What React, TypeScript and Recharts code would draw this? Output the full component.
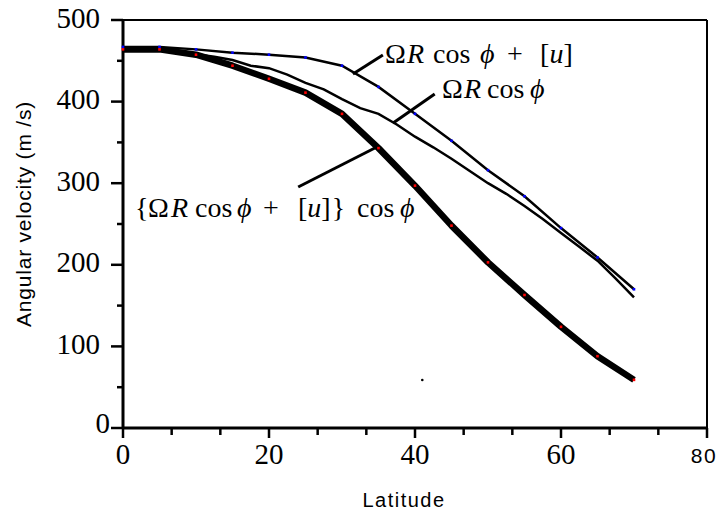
import React from 'react';
import { ComposedChart, Line, XAxis, YAxis, ReferenceLine, ReferenceDot } from 'recharts';

// Latitudes (degrees)
const latCoarse = [0, 5, 10, 15, 20, 25, 30, 35, 40, 45, 50, 55, 60, 65, 70];
// ΩR cos φ + [u]
const seriesA = [467, 467, 464, 460, 457.5, 454, 444, 418, 385, 352, 316, 284, 245, 209, 170];
// {ΩR cos φ + [u]} cos φ
const seriesC = [464, 464, 457.5, 444, 428, 411, 385, 343, 297, 248, 203, 163, 124, 88, 59];
// ΩR cos φ (finer sampling, slightly irregular trace)
const latFine = [0, 2.5, 5, 7.5, 10, 12.5, 15, 17.5, 20, 22.5, 25, 27.5, 30, 32.5, 35, 37.5, 40, 42.5, 45, 47.5, 50, 52.5, 55, 57.5, 60, 62.5, 65, 67.5, 70];
const seriesB = [466, 466, 465, 462, 458, 455, 451, 444, 441, 433, 423, 415, 403, 392, 385, 372, 357, 344, 330, 315, 300, 287, 272, 256, 239, 222, 205, 183, 160];

const xTicks = [0, 20 / 3, 40 / 3, 20, 80 / 3, 100 / 3, 40, 140 / 3, 160 / 3, 60, 200 / 3, 220 / 3, 80];
const yTicks = [0, 50, 100, 150, 200, 250, 300, 350, 400, 450, 500];

const dataA = latCoarse.map((lat, i) => ({ lat, v: seriesA[i] }));
const dataC = latCoarse.map((lat, i) => ({ lat, v: seriesC[i] }));
const dataB = latFine.map((lat, i) => ({ lat, v: seriesB[i] }));

const SERIF = "'Liberation Serif', 'Times New Roman', 'DejaVu Serif', serif";
const SANS = "'Liberation Sans', Arial, 'DejaVu Sans', sans-serif";

const XTick = (props: any) => {
  const { x, y, payload } = props;
  const v = payload.value;
  const major = Math.abs(v / 20 - Math.round(v / 20)) < 1e-6;
  const r = Math.round(v);
  return (
    <g>
      <line x1={x} x2={x} y1={y} y2={y + (major ? 10 : 7)} stroke="#000" strokeWidth={2.5} />
      {major && r !== 80 && (
        <text x={x} y={464} textAnchor="middle" fill="#000" style={{ fontFamily: SERIF, fontSize: 29 }}>
          {r}
        </text>
      )}
      {major && r === 80 && (
        <text x={x - 3} y={463} textAnchor="middle" fill="#000" style={{ fontFamily: SANS, fontSize: 21, letterSpacing: 1.5 }}>
          80
        </text>
      )}
    </g>
  );
};

const YTick = (props: any) => {
  const { x, y, payload } = props;
  const v = payload.value;
  const major = v % 100 === 0;
  return (
    <g>
      <line x1={x - (major ? 12 : 6)} x2={x} y1={y} y2={y} stroke="#000" strokeWidth={2.5} />
      {major && (
        <text
          x={v === 0 ? x - 13 : x - 23}
          y={v === 0 ? y + 5 : y + 7.5}
          textAnchor="end"
          fill="#000"
          style={{ fontFamily: SERIF, fontSize: 29 }}
        >
          {v}
        </text>
      )}
    </g>
  );
};

const YTitle = (props: any) => {
  const vb = props.viewBox || {};
  const cx = 31;
  const cy = vb.y + vb.height / 2 - 10;
  return (
    <text
      x={cx}
      y={cy}
      transform={`rotate(-90, ${cx}, ${cy})`}
      textAnchor="middle"
      fill="#000"
      style={{ fontFamily: SANS, fontSize: 21, letterSpacing: 0.8 }}
    >
      Angular velocity (m /s)
    </text>
  );
};

const XTitle = (props: any) => {
  const vb = props.viewBox || {};
  const cx = vb.x + vb.width / 2 - 11;
  return (
    <text x={cx} y={507} textAnchor="middle" fill="#000" style={{ fontFamily: SANS, fontSize: 20, letterSpacing: 1.5 }}>
      Latitude
    </text>
  );
};

const makeDot = (color: string) => (props: any) => {
  const { cx, cy, index } = props;
  if (cx == null || cy == null) return <g key={index} />;
  return <rect key={index} x={cx - 1.3} y={cy - 1.3} width={2.6} height={2.6} fill={color} />;
};

const It = ({ children }: any) => <tspan fontStyle="italic">{children}</tspan>;

const LabelA = (p: any) => {
  const { cx, cy } = p;
  return (
    <text y={cy} fill="#000" style={{ fontFamily: SERIF, fontSize: 28 }}>
      <tspan x={cx}>Ω</tspan>
      <tspan x={cx + 22} fontStyle="italic">R</tspan>
      <tspan x={cx + 48}>cos</tspan>
      <tspan x={cx + 95} fontStyle="italic">ϕ</tspan>
      <tspan x={cx + 122}>+</tspan>
      <tspan x={cx + 155}>[</tspan>
      <It>u</It>
      <tspan>]</tspan>
    </text>
  );
};

const LabelB = (p: any) => {
  const { cx, cy } = p;
  return (
    <text y={cy} fill="#000" style={{ fontFamily: SERIF, fontSize: 28 }}>
      <tspan x={cx}>Ω</tspan>
      <tspan x={cx + 22} fontStyle="italic">R</tspan>
      <tspan x={cx + 45}>cos</tspan>
      <tspan x={cx + 88} fontStyle="italic">ϕ</tspan>
    </text>
  );
};

const LabelC = (p: any) => {
  const { cx, cy } = p;
  return (
    <text y={cy} fill="#000" style={{ fontFamily: SERIF, fontSize: 28 }}>
      <tspan x={cx}>{'{'}</tspan>
      <tspan x={cx + 13}>Ω</tspan>
      <tspan x={cx + 36} fontStyle="italic">R</tspan>
      <tspan x={cx + 60}>cos</tspan>
      <tspan x={cx + 102} fontStyle="italic">ϕ</tspan>
      <tspan x={cx + 128}>+</tspan>
      <tspan x={cx + 163}>[</tspan>
      <It>u</It>
      <tspan>]</tspan>
      <tspan dx={1}>{'}'}</tspan>
      <tspan x={cx + 222}>cos</tspan>
      <tspan x={cx + 265} fontStyle="italic">ϕ</tspan>
    </text>
  );
};

export default function App() {
  return (
    <div style={{ position: 'absolute', left: 0, top: 0, width: 721, height: 512, background: '#fff' }}>
      <ComposedChart width={721} height={512} margin={{ top: 20, right: 14, bottom: 0, left: 0 }}>
        <XAxis
          type="number"
          dataKey="lat"
          domain={[0, 80]}
          ticks={xTicks}
          interval={0}
          tickSize={0}
          tickMargin={0}
          tickLine={false}
          tick={<XTick />}
          height={84}
          axisLine={{ stroke: '#000', strokeWidth: 3 }}
          allowDuplicatedCategory={false}
          label={<XTitle />}
        />
        <YAxis
          type="number"
          dataKey="v"
          domain={[0, 500]}
          ticks={yTicks}
          interval={0}
          tickSize={0}
          tickMargin={0}
          tickLine={false}
          tick={<YTick />}
          width={123}
          axisLine={{ stroke: '#000', strokeWidth: 3 }}
          label={<YTitle />}
        />
        <ReferenceLine y={500} stroke="#000" strokeWidth={2} />
        <ReferenceLine x={80} stroke="#000" strokeWidth={2} />

        <Line
          data={dataB}
          dataKey="v"
          type="linear"
          stroke="#000"
          strokeWidth={2.5}
          dot={false}
          isAnimationActive={false}
        />
        <Line
          data={dataA}
          dataKey="v"
          type="linear"
          stroke="#000"
          strokeWidth={2.5}
          dot={makeDot('#0000ff')}
          isAnimationActive={false}
        />
        <Line
          data={dataC}
          dataKey="v"
          type="linear"
          stroke="#000"
          strokeWidth={6.5}
          strokeLinejoin="round"
          dot={makeDot('#ff0000')}
          isAnimationActive={false}
        />

        <ReferenceLine segment={[{ x: 31.5, y: 433.8 }, { x: 35.6, y: 457 }]} stroke="#000" strokeWidth={3} />
        <ReferenceLine segment={[{ x: 37.0, y: 373.8 }, { x: 42.7, y: 409.3 }]} stroke="#000" strokeWidth={3} />
        <ReferenceLine segment={[{ x: 24.0, y: 295.3 }, { x: 34.5, y: 343.1 }]} stroke="#000" strokeWidth={3} />

        <ReferenceDot x={35.9} y={447.3} r={0} shape={(p: any) => <LabelA {...p} />} />
        <ReferenceDot x={43.7} y={404.4} r={0} shape={(p: any) => <LabelB {...p} />} />
        <ReferenceDot x={1.64} y={258.6} r={0} shape={(p: any) => <LabelC {...p} />} />
        <ReferenceDot x={41} y={58.8} r={1.3} fill="#000" stroke="none" />
      </ComposedChart>
    </div>
  );
}
